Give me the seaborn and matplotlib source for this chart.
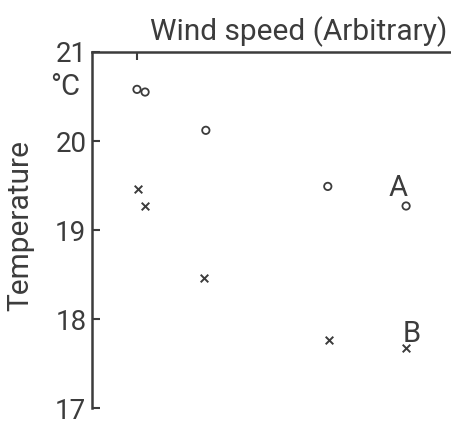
import matplotlib
matplotlib.use("Agg")
import matplotlib.pyplot as plt
import seaborn as sns
import pandas as pd

# wind speed (arbitrary units) and temperature (deg C)
a_wind = [1.0, 1.18, 2.53, 5.24, 6.98]
a_temp = [20.58, 20.55, 20.12, 19.49, 19.27]
b_wind = [1.02, 1.18, 2.49, 5.27, 6.98]
b_temp = [19.46, 19.27, 18.46, 17.77, 17.68]
y_ticks = [17, 18, 19, 20, 21]

ink = "#3c3c3c"

sns.set_style("white")
plt.rcParams["font.family"] = ["Roboto", "DejaVu Sans"]
plt.rcParams["font.weight"] = "normal"

fig = plt.figure(figsize=(4.52, 4.26), dpi=100)
ax = fig.add_axes([0.2035, 0.042, 0.7965, 0.836])

df_a = pd.DataFrame({"wind": a_wind, "temp": a_temp})
df_b = pd.DataFrame({"wind": b_wind, "temp": b_temp})

sns.scatterplot(data=df_a, x="wind", y="temp", marker="o", s=28,
                facecolor="none", edgecolor=ink, linewidth=1.3, ax=ax)
sns.scatterplot(data=df_b, x="wind", y="temp", marker="x", s=30,
                color=ink, linewidth=1.4, ax=ax)

ax.set_xlim(0, 8)
ax.set_ylim(17, 21)

for side in ["bottom", "right"]:
    ax.spines[side].set_visible(False)
for side in ["left", "top"]:
    ax.spines[side].set_color(ink)
    ax.spines[side].set_linewidth(1.8)

ax.xaxis.tick_top()
ax.set_xticks([1])
ax.set_xticklabels([""])
ax.set_yticks(y_ticks)
ax.set_yticklabels([str(t) for t in y_ticks])
ax.tick_params(axis="both", direction="in", length=6, width=1.5, color=ink,
               labelcolor=ink, labelsize=20, pad=4, left=True, top=True)
ax.set_xlabel("")
ax.set_ylabel("")

fig.text(0.99, 0.925, "Wind speed (Arbitrary)", ha="right", va="center",
         fontsize=21.5, color=ink)
fig.text(0.046, 0.47, "Temperature", rotation=90, ha="center", va="center",
         fontsize=21.5, color=ink)
fig.text(0.145, 0.795, "\u00b0C", ha="center", va="center",
         fontsize=21, color=ink)

ax.text(6.8, 19.47, "A", fontsize=21, color=ink, ha="center", va="center")
ax.text(7.1, 17.83, "B", fontsize=21, color=ink, ha="center", va="center")

fig.savefig("out.png", dpi=100)
